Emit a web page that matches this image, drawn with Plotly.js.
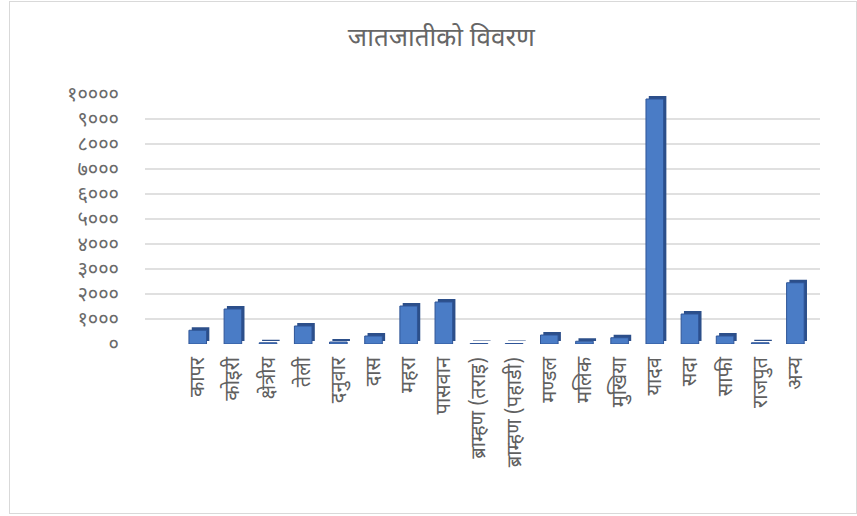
<!DOCTYPE html>
<html>
<head>
<meta charset="utf-8">
<script src="https://cdn.plot.ly/plotly-3.0.1.min.js"></script>
<style>
html,body{margin:0;padding:0;background:#fff;}
#chart{width:857px;height:516px;position:relative;}
#frame{position:absolute;left:9px;top:1px;width:846px;height:511px;border:1px solid #d9d9d9;pointer-events:none;}
</style>
</head>
<body>
<div id="chart"></div>
<div id="frame"></div>
<script>
const categories = ["कापर","कोइरी","क्षेत्रीय","तेली","दनुवार","दास","महरा","पासवान","ब्राम्हण (तराइ)","ब्राम्हण (पहाडी)","मण्डल","मलिक","मुखिया","यादव","सदा","साफी","राजपुत","अन्य"];
const counts = [550, 1400, 50, 720, 80, 320, 1520, 1680, 20, 20, 360, 110, 250, 9800, 1200, 320, 50, 2450];
const tickValues = [0,1000,2000,3000,4000,5000,6000,7000,8000,9000,10000];
const tickLabels = ["०","१०००","२०००","३०००","४०००","५०००","६०००","७०००","८०००","९०००","१००००"];
const titleText = "जातजातीको विवरण";

const fontFam = "'Noto Sans Devanagari','Noto Sans','Lohit Devanagari',sans-serif";
const depth = 120;

const side = {
  type: 'bar', x: categories, y: counts, base: depth,
  width: 0.5, offset: -0.17,
  marker: {color: '#2c4f8a', line: {width: 0}},
  hoverinfo: 'skip', showlegend: false
};
const front = {
  type: 'bar', x: categories, y: counts,
  width: 0.5, offset: -0.25,
  marker: {color: '#4a7cc6', line: {color: '#2f5597', width: 1}},
  showlegend: false
};

const layout = {
  width: 857, height: 516,
  margin: {l: 145, r: 37, t: 94, b: 172},
  paper_bgcolor: '#ffffff', plot_bgcolor: '#ffffff',
  barmode: 'overlay',
  title: {text: titleText, x: 0.515, xanchor: 'center', y: 0.928, yanchor: 'middle',
          font: {family: fontFam, size: 26, color: '#666666'}},
  xaxis: {
    type: 'category', range: [-1.5, 17.7], automargin: false,
    tickangle: -90, showgrid: false, zeroline: false, showline: false,
    ticks: '', ticklabelstandoff: 8,
    tickfont: {family: fontFam, size: 20, color: '#606060'}
  },
  yaxis: {
    range: [0, 10000], tickvals: tickValues, ticktext: tickLabels, automargin: false,
    showgrid: true, gridcolor: '#e0e0e0', gridwidth: 1.5,
    zeroline: false, showline: false, ticks: '', ticklabelstandoff: 25,
    tickfont: {family: fontFam, size: 20, color: '#6a6a6a'}
  },
  font: {family: fontFam}
};

Plotly.newPlot('chart', [side, front], layout, {displayModeBar: false, staticPlot: true});
</script>
</body>
</html>
